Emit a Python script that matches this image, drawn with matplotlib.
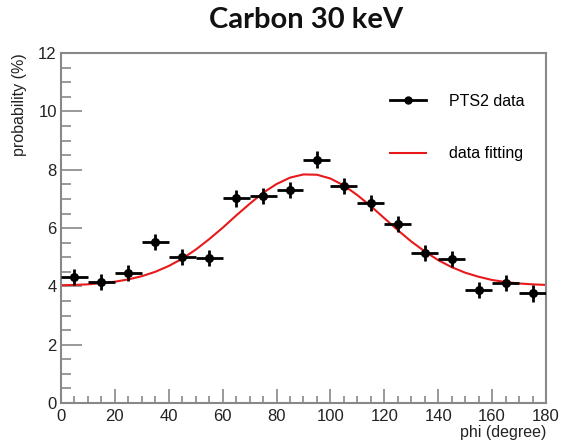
import numpy as np
import matplotlib
matplotlib.use("Agg")
import matplotlib.pyplot as plt
from matplotlib.ticker import MultipleLocator
from matplotlib.lines import Line2D

plt.rcParams['font.family'] = ['Liberation Sans', 'DejaVu Sans']

# measured points (bin centres, probability in %)
phi = [5, 15, 25, 35, 45, 55, 65, 75, 85, 95, 105, 115, 125, 135, 145, 155, 165, 175]
prob = [4.32, 4.15, 4.46, 5.52, 5.0, 4.97, 7.02, 7.1, 7.3, 8.35, 7.45, 6.85, 6.14, 5.15, 4.93, 3.87, 4.12, 3.76]
phi_err = [5] * 18
prob_err = [0.28] * 18

# fitted curve, every 5 degrees
fit_phi = list(range(0, 181, 5))
fit_prob = [4.04, 4.05, 4.07, 4.11, 4.16, 4.24, 4.35, 4.50, 4.70, 4.95, 5.26, 5.62,
            6.01, 6.43, 6.83, 7.21, 7.51, 7.73, 7.84, 7.83, 7.70, 7.46, 7.13, 6.75,
            6.34, 5.93, 5.54, 5.20, 4.90, 4.66, 4.47, 4.33, 4.22, 4.15, 4.10, 4.07, 4.05]

fig = plt.figure(figsize=(5.62, 4.43), dpi=100)
ax = fig.add_axes([0.1085, 0.0903, 0.863, 0.7897])

ax.errorbar(phi, prob, xerr=phi_err, yerr=prob_err, fmt='o', color='black',
            markersize=5.5, elinewidth=2, capsize=0, zorder=3)
ax.plot(fit_phi, fit_prob, color='#e8191a', linewidth=1.5, zorder=2)

ax.set_xlim(0, 180)
ax.set_ylim(0, 12)
ax.xaxis.set_major_locator(MultipleLocator(20))
ax.xaxis.set_minor_locator(MultipleLocator(5))
ax.yaxis.set_major_locator(MultipleLocator(2))
ax.yaxis.set_minor_locator(MultipleLocator(0.5))
ax.tick_params(which='both', direction='in', color='#888888', labelsize=12,
               labelcolor='#222222', top=False, right=False)
ax.tick_params(axis='x', which='major', length=10, width=1.2, pad=4)
ax.tick_params(axis='x', which='minor', length=5, width=1.2)
ax.tick_params(axis='y', which='major', length=15, width=1.2, pad=3)
ax.tick_params(axis='y', which='minor', length=7, width=1.2)
for s in ax.spines.values():
    s.set_color('#888888')
    s.set_linewidth(1.5)

ax.set_xlabel('phi (degree)', loc='right', fontsize=11.5, color='#222222', labelpad=1)
ax.set_ylabel('probability (%)', loc='top', fontsize=11.5, color='#222222', labelpad=8)

handles = [
    Line2D([], [], color='black', marker='o', markersize=5, linewidth=2, label='PTS2 data'),
    Line2D([], [], color='#e8191a', linewidth=1.5, label='data fitting'),
]
ax.legend(handles=handles, loc='upper right', bbox_to_anchor=(0.985, 0.925), frameon=False,
          fontsize=11.5, handlelength=2.3, handletextpad=1.4, labelspacing=2.35)

fig.suptitle('Carbon 30 keV', x=0.545, y=0.985, fontsize=21, fontweight='bold',
             family='Lato', color='#111111')

fig.savefig('out.png', dpi=100)
